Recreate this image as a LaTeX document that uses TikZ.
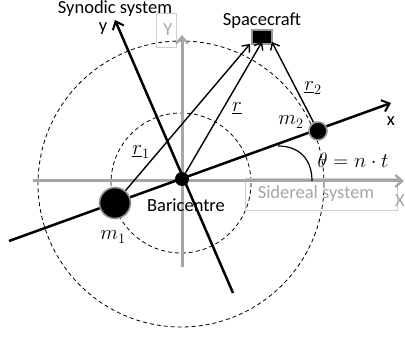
\documentclass[tikz,border=0pt]{standalone}
\usepackage{fontspec}
\setmainfont{Carlito}
\usetikzlibrary{arrows.meta}
\definecolor{axgray}{RGB}{166,166,166}
\definecolor{boxgray}{RGB}{205,205,205}
\definecolor{glow}{RGB}{150,150,150}
\begin{document}
\begin{tikzpicture}[x=1pt,y=-1pt,
  lbl/.style={font=\fontsize{18.5}{20}\selectfont, inner sep=0pt},
  mlbl/.style={font=\fontsize{22}{24}\selectfont, inner sep=0pt},
  graylbl/.style={lbl, text=axgray},
  dashcirc/.style={dashed, line width=0.8pt, dash pattern=on 4pt off 3pt},
  grayaxis/.style={draw=axgray, line width=3pt, -{Straight Barb[length=7pt,width=12pt,line width=2.2pt]}},
  blackaxis/.style={line width=2.5pt, -{Straight Barb[length=7pt,width=12pt,line width=2pt]}},
  vec/.style={line width=1.4pt, -{Straight Barb[length=6pt,width=10pt,line width=1.4pt]}},
  mass/.style={circle, fill=black, draw=glow, line width=1.6pt, inner sep=0pt}
]
\useasboundingbox (0,0) rectangle (405,339);

% dashed circles
\draw[dashcirc] (181,184) circle (143);
\draw[dashcirc] (181,183) circle (70);

% sidereal axes and boxes
\node[draw=boxgray, line width=0.8pt, anchor=north west, minimum width=20pt, minimum height=34pt, inner sep=0pt] (Ybox) at (156,13) {};
\node[draw=boxgray, line width=0.8pt, anchor=north west, minimum width=152pt, minimum height=32pt, inner sep=0pt] (Sbox) at (245,178) {};
\coordinate (Xs) at (33,181);
\coordinate (Xe) at (404,181);
\coordinate (Ys) at (182,267);
\coordinate (Ye) at (182,35);
\draw[grayaxis] (Xs) -- (Xe);
\draw[grayaxis] (Ys) -- (Ye);
\node[graylbl] (Ylbl) at (168,30) {Y};
\node[graylbl] (Slbl) at (316,194) {Sidereal system};
\node[graylbl] (Xlbl) at (400,201) {X};

% synodic axes
\coordinate (xs) at (9,241);
\coordinate (xe) at (391,103);
\coordinate (ys) at (233,293);
\coordinate (ye) at (115,20);
\draw[blackaxis] (xs) -- (xe);
\draw[blackaxis] (ys) -- (ye);

% angle
\coordinate (a1) at (278,146);
\coordinate (a2) at (312,181);
\draw[line width=1.2pt] (a1) .. controls (300,146) and (312,160) .. (a2);

% masses
\node[mass, minimum size=31pt] (m1) at (115,203) {};
\node[mass, minimum size=18pt] (m2) at (318,131) {};
\node[circle, fill=black, inner sep=0pt, minimum size=14pt] (B) at (182,179) {};

% spacecraft
\node[fill=black, draw=glow, line width=1.8pt, minimum width=20pt, minimum height=14pt, inner sep=0pt] (sc) at (262,37) {};

% vectors
\draw[vec] (m1) -- ([xshift=-1pt,yshift=1pt]sc.south west);
\draw[vec] (B) -- ([yshift=3pt]sc.south);
\draw[vec] (m2) -- ([xshift=-1pt,yshift=3pt]sc.south east);

% labels
\node[lbl] (syn) at (115,9) {Synodic system};
\node[lbl] (ylbl) at (103,29) {y};
\node[lbl] (xlbl) at (391,121) {x};
\node[lbl] (sclbl) at (262,21) {Spacecraft};
\node[lbl] (blbl) at (186,205) {Baricentre};
\node[mlbl] (r1) at (141,152) {$\underline{r}_1$};
\node[mlbl] (r) at (237,108) {$\underline{r}$};
\node[mlbl] (r2) at (313,88) {$\underline{r}_2$};
\node[mlbl] (m2l) at (291,122) {$m_2$};
\node[mlbl] (m1l) at (113,237) {$m_1$};
\node[mlbl] (th) at (353,160) {$\theta = n\cdot t$};
\end{tikzpicture}
\end{document}
